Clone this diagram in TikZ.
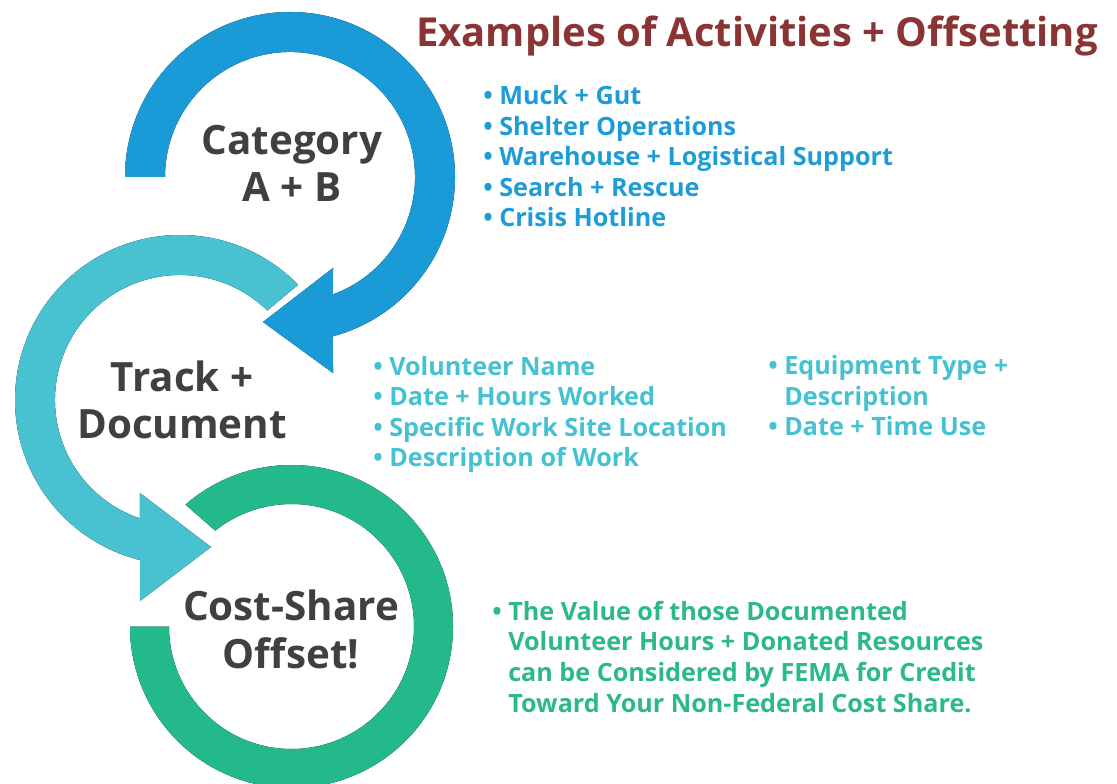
\documentclass[tikz,border=0pt]{standalone}
\usepackage{fontspec}
\setmainfont{Open Sans}
\usepackage{xcolor}

\definecolor{catdark}{HTML}{1A9AD6}
\definecolor{catlight}{HTML}{2CAAE2}
\definecolor{trkdark}{HTML}{48C1D1}
\definecolor{trklight}{HTML}{5FCADB}
\definecolor{cstdark}{HTML}{24B98A}
\definecolor{cstlight}{HTML}{58C29B}
\definecolor{textgray}{HTML}{404040}
\definecolor{titlered}{HTML}{8A3434}
\definecolor{catitem}{HTML}{1E9CD7}
\definecolor{trkitem}{HTML}{45C2D2}
\definecolor{cstitem}{HTML}{2BB98A}

\begin{document}
\begin{tikzpicture}[
x=0.025cm,
y=0.025cm,
bigtext/.style={
font=\fontsize{28.7}{34}\selectfont\bfseries,
text=textgray,
align=center,
anchor=base,
inner sep=0pt
},
titletext/.style={
font=\fontsize{28.4}{34}\selectfont\bfseries,
text=titlered,
anchor=base,
inner sep=0pt
},
itemtext/.style={
font=\fontsize{17.9}{21.7}\selectfont\bfseries,
align=left,
anchor=base west,
inner sep=0pt
},
catring/.style={left color=catdark,middle color=catlight,right color=catdark},
trkring/.style={left color=trkdark,middle color=trklight,right color=trkdark},
cstring/.style={left color=cstdark,middle color=cstlight,right color=cstdark}
]

\useasboundingbox (0,0) rectangle (1117,783);
\clip (0,0) rectangle (1117,783);

%---------------- Rings ----------------%

\coordinate (catc) at (290,606);
\coordinate (trkc) at (180,383);
\coordinate (cstc) at (291.5,156.5);

\fill[catring] ([shift={(180:165)}]catc)
arc[start angle=180,end angle=-74.9,radius=165]
-- (333,410) -- (263,461) -- (333,515)
-- ([shift={(-69.9:125)}]catc)
arc[start angle=-69.9,end angle=180,radius=125] -- cycle;

\fill[trkring] ([shift={(44.3:165)}]trkc)
arc[start angle=44.3,end angle=256,radius=165]
-- (140,182) -- (211,236) -- (140,290)
-- ([shift={(251.3:125)}]trkc)
arc[start angle=251.3,end angle=45.7,radius=125] -- cycle;

\fill[cstring] ([shift={(131:161.5)}]cstc)
arc[start angle=131,end angle=-180,radius=161.5]
-- ([shift={(180:122.5)}]cstc)
arc[start angle=-180,end angle=128.5,radius=122.5] -- cycle;

%---------------- Labels ----------------%

\node[bigtext] (cat) at (292,581) {Category\\A + B};

\node[bigtext] (trk) at (182,344) {Track +\\Document};

\node[bigtext] (cst) at (291,115) {Cost-Share\\Offset!};

\node[titletext] (title) at (757,736) {Examples of Activities + Offsetting};

%---------------- Lists ----------------%

\node[itemtext,text=catitem] (acts) at (483,556)
{• Muck + Gut\\• Shelter Operations\\• Warehouse + Logistical Support\\• Search + Rescue\\• Crisis Hotline};

\node[itemtext,text=trkitem] (recs) at (373,316)
{• Volunteer Name\\• Date + Hours Worked\\• Specific Work Site Location\\• Description of Work};

\node[itemtext,text=trkitem] (equip) at (768,347)
{• Equipment Type +\\\hphantom{•\ }Description\\• Date + Time Use};

\node[itemtext,text=cstitem] (credit) at (492,71)
{• The Value of those Documented\\\hphantom{•\ }Volunteer Hours + Donated Resources\\\hphantom{•\ }can be Considered by FEMA for Credit\\\hphantom{•\ }Toward Your Non-Federal Cost Share.};

\end{tikzpicture}
\end{document}
